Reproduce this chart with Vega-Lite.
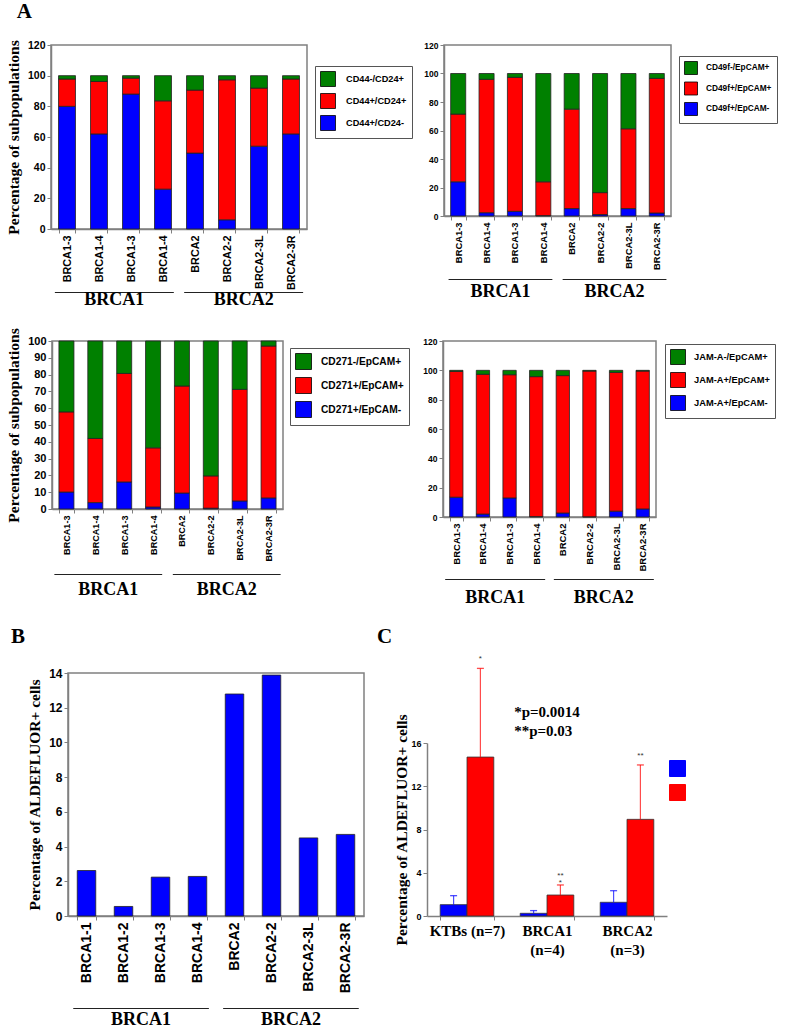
{
"$schema": "https://vega.github.io/schema/vega-lite/v6.json",
"background": "white",
"padding": {"left": 5, "top": 1, "right": 2, "bottom": 2},
"config": {
 "view": {"stroke": "#808080", "strokeWidth": 1.5},
 "axis": {"grid": false, "labelFont": "Liberation Sans", "labelFontWeight": "bold", "labelColor": "#000", "domainColor": "#808080", "domainWidth": 1.5, "tickColor": "#808080", "tickWidth": 1, "tickSize": 4, "titleFont": "Liberation Serif", "titleFontWeight": "bold", "titleColor": "#000", "titleFontSize": 15.5, "titlePadding": 6},
 "legend": {"title": null},
 "title": {"font": "Liberation Serif", "fontWeight": "bold", "fontSize": 21, "anchor": "start", "color": "#000"}
},
"datasets": {
 "p1": [
  {"cat":"BRCA1-3","pop":"CD44+/CD24-","k":0,"v":80},
  {"cat":"BRCA1-4","pop":"CD44+/CD24-","k":0,"v":62},
  {"cat":"BRCA1-3\u200b","pop":"CD44+/CD24-","k":0,"v":88},
  {"cat":"BRCA1-4\u200b","pop":"CD44+/CD24-","k":0,"v":26},
  {"cat":"BRCA2","pop":"CD44+/CD24-","k":0,"v":49.5},
  {"cat":"BRCA2-2","pop":"CD44+/CD24-","k":0,"v":6},
  {"cat":"BRCA2-3L","pop":"CD44+/CD24-","k":0,"v":54},
  {"cat":"BRCA2-3R","pop":"CD44+/CD24-","k":0,"v":62},
  {"cat":"BRCA1-3","pop":"CD44+/CD24+","k":1,"v":17.8},
  {"cat":"BRCA1-4","pop":"CD44+/CD24+","k":1,"v":34.2},
  {"cat":"BRCA1-3\u200b","pop":"CD44+/CD24+","k":1,"v":10.4},
  {"cat":"BRCA1-4\u200b","pop":"CD44+/CD24+","k":1,"v":57.6},
  {"cat":"BRCA2","pop":"CD44+/CD24+","k":1,"v":41.1},
  {"cat":"BRCA2-2","pop":"CD44+/CD24+","k":1,"v":91.3},
  {"cat":"BRCA2-3L","pop":"CD44+/CD24+","k":1,"v":37.9},
  {"cat":"BRCA2-3R","pop":"CD44+/CD24+","k":1,"v":35.8},
  {"cat":"BRCA1-3","pop":"CD44-/CD24+","k":2,"v":2.2},
  {"cat":"BRCA1-4","pop":"CD44-/CD24+","k":2,"v":3.8},
  {"cat":"BRCA1-3\u200b","pop":"CD44-/CD24+","k":2,"v":1.6},
  {"cat":"BRCA1-4\u200b","pop":"CD44-/CD24+","k":2,"v":16.4},
  {"cat":"BRCA2","pop":"CD44-/CD24+","k":2,"v":9.4},
  {"cat":"BRCA2-2","pop":"CD44-/CD24+","k":2,"v":2.7},
  {"cat":"BRCA2-3L","pop":"CD44-/CD24+","k":2,"v":8.1},
  {"cat":"BRCA2-3R","pop":"CD44-/CD24+","k":2,"v":2.2}
 ],
 "p2": [
  {"cat":"BRCA1-3","pop":"CD49f+/EpCAM-","k":0,"v":24},
  {"cat":"BRCA1-4","pop":"CD49f+/EpCAM-","k":0,"v":2.3},
  {"cat":"BRCA1-3\u200b","pop":"CD49f+/EpCAM-","k":0,"v":3.3},
  {"cat":"BRCA1-4\u200b","pop":"CD49f+/EpCAM-","k":0,"v":0.3},
  {"cat":"BRCA2","pop":"CD49f+/EpCAM-","k":0,"v":5.2},
  {"cat":"BRCA2-2","pop":"CD49f+/EpCAM-","k":0,"v":1},
  {"cat":"BRCA2-3L","pop":"CD49f+/EpCAM-","k":0,"v":5.2},
  {"cat":"BRCA2-3R","pop":"CD49f+/EpCAM-","k":0,"v":2.1},
  {"cat":"BRCA1-3","pop":"CD49f+/EpCAM+","k":1,"v":47.5},
  {"cat":"BRCA1-4","pop":"CD49f+/EpCAM+","k":1,"v":93.6},
  {"cat":"BRCA1-3\u200b","pop":"CD49f+/EpCAM+","k":1,"v":94},
  {"cat":"BRCA1-4\u200b","pop":"CD49f+/EpCAM+","k":1,"v":23.7},
  {"cat":"BRCA2","pop":"CD49f+/EpCAM+","k":1,"v":69.8},
  {"cat":"BRCA2-2","pop":"CD49f+/EpCAM+","k":1,"v":15.4},
  {"cat":"BRCA2-3L","pop":"CD49f+/EpCAM+","k":1,"v":56},
  {"cat":"BRCA2-3R","pop":"CD49f+/EpCAM+","k":1,"v":94.5},
  {"cat":"BRCA1-3","pop":"CD49f-/EpCAM+","k":2,"v":28.5},
  {"cat":"BRCA1-4","pop":"CD49f-/EpCAM+","k":2,"v":4.1},
  {"cat":"BRCA1-3\u200b","pop":"CD49f-/EpCAM+","k":2,"v":2.7},
  {"cat":"BRCA1-4\u200b","pop":"CD49f-/EpCAM+","k":2,"v":76},
  {"cat":"BRCA2","pop":"CD49f-/EpCAM+","k":2,"v":25},
  {"cat":"BRCA2-2","pop":"CD49f-/EpCAM+","k":2,"v":83.6},
  {"cat":"BRCA2-3L","pop":"CD49f-/EpCAM+","k":2,"v":38.8},
  {"cat":"BRCA2-3R","pop":"CD49f-/EpCAM+","k":2,"v":3.4}
 ],
 "p3": [
  {"cat":"BRCA1-3","pop":"CD271+/EpCAM-","k":0,"v":10.1},
  {"cat":"BRCA1-4","pop":"CD271+/EpCAM-","k":0,"v":3.8},
  {"cat":"BRCA1-3\u200b","pop":"CD271+/EpCAM-","k":0,"v":16.1},
  {"cat":"BRCA1-4\u200b","pop":"CD271+/EpCAM-","k":0,"v":1.2},
  {"cat":"BRCA2","pop":"CD271+/EpCAM-","k":0,"v":9.5},
  {"cat":"BRCA2-2","pop":"CD271+/EpCAM-","k":0,"v":0.5},
  {"cat":"BRCA2-3L","pop":"CD271+/EpCAM-","k":0,"v":4.8},
  {"cat":"BRCA2-3R","pop":"CD271+/EpCAM-","k":0,"v":6.6},
  {"cat":"BRCA1-3","pop":"CD271+/EpCAM+","k":1,"v":47.7},
  {"cat":"BRCA1-4","pop":"CD271+/EpCAM+","k":1,"v":38.2},
  {"cat":"BRCA1-3\u200b","pop":"CD271+/EpCAM+","k":1,"v":64.6},
  {"cat":"BRCA1-4\u200b","pop":"CD271+/EpCAM+","k":1,"v":35.2},
  {"cat":"BRCA2","pop":"CD271+/EpCAM+","k":1,"v":63.7},
  {"cat":"BRCA2-2","pop":"CD271+/EpCAM+","k":1,"v":19.2},
  {"cat":"BRCA2-3L","pop":"CD271+/EpCAM+","k":1,"v":66.4},
  {"cat":"BRCA2-3R","pop":"CD271+/EpCAM+","k":1,"v":90.4},
  {"cat":"BRCA1-3","pop":"CD271-/EpCAM+","k":2,"v":42.2},
  {"cat":"BRCA1-4","pop":"CD271-/EpCAM+","k":2,"v":58},
  {"cat":"BRCA1-3\u200b","pop":"CD271-/EpCAM+","k":2,"v":19.3},
  {"cat":"BRCA1-4\u200b","pop":"CD271-/EpCAM+","k":2,"v":63.6},
  {"cat":"BRCA2","pop":"CD271-/EpCAM+","k":2,"v":26.8},
  {"cat":"BRCA2-2","pop":"CD271-/EpCAM+","k":2,"v":80.3},
  {"cat":"BRCA2-3L","pop":"CD271-/EpCAM+","k":2,"v":28.8},
  {"cat":"BRCA2-3R","pop":"CD271-/EpCAM+","k":2,"v":3}
 ],
 "p4": [
  {"cat":"BRCA1-3","pop":"JAM-A+/EpCAM-","k":0,"v":13.5},
  {"cat":"BRCA1-4","pop":"JAM-A+/EpCAM-","k":0,"v":2},
  {"cat":"BRCA1-3\u200b","pop":"JAM-A+/EpCAM-","k":0,"v":13},
  {"cat":"BRCA1-4\u200b","pop":"JAM-A+/EpCAM-","k":0,"v":0.3},
  {"cat":"BRCA2","pop":"JAM-A+/EpCAM-","k":0,"v":2.7},
  {"cat":"BRCA2-2","pop":"JAM-A+/EpCAM-","k":0,"v":0.2},
  {"cat":"BRCA2-3L","pop":"JAM-A+/EpCAM-","k":0,"v":4},
  {"cat":"BRCA2-3R","pop":"JAM-A+/EpCAM-","k":0,"v":5.5},
  {"cat":"BRCA1-3","pop":"JAM-A+/EpCAM+","k":1,"v":85.8},
  {"cat":"BRCA1-4","pop":"JAM-A+/EpCAM+","k":1,"v":95.3},
  {"cat":"BRCA1-3\u200b","pop":"JAM-A+/EpCAM+","k":1,"v":84},
  {"cat":"BRCA1-4\u200b","pop":"JAM-A+/EpCAM+","k":1,"v":95.4},
  {"cat":"BRCA2","pop":"JAM-A+/EpCAM+","k":1,"v":93.7},
  {"cat":"BRCA2-2","pop":"JAM-A+/EpCAM+","k":1,"v":99.3},
  {"cat":"BRCA2-3L","pop":"JAM-A+/EpCAM+","k":1,"v":94.6},
  {"cat":"BRCA2-3R","pop":"JAM-A+/EpCAM+","k":1,"v":94},
  {"cat":"BRCA1-3","pop":"JAM-A-/EpCAM+","k":2,"v":0.7},
  {"cat":"BRCA1-4","pop":"JAM-A-/EpCAM+","k":2,"v":2.7},
  {"cat":"BRCA1-3\u200b","pop":"JAM-A-/EpCAM+","k":2,"v":3},
  {"cat":"BRCA1-4\u200b","pop":"JAM-A-/EpCAM+","k":2,"v":4.3},
  {"cat":"BRCA2","pop":"JAM-A-/EpCAM+","k":2,"v":3.6},
  {"cat":"BRCA2-2","pop":"JAM-A-/EpCAM+","k":2,"v":0.5},
  {"cat":"BRCA2-3L","pop":"JAM-A-/EpCAM+","k":2,"v":1.4},
  {"cat":"BRCA2-3R","pop":"JAM-A-/EpCAM+","k":2,"v":0.5}
 ],
 "pb": [
  {"cat":"BRCA1-1","v":2.62},
  {"cat":"BRCA1-2","v":0.55},
  {"cat":"BRCA1-3","v":2.24},
  {"cat":"BRCA1-4","v":2.28},
  {"cat":"BRCA2","v":12.79},
  {"cat":"BRCA2-2","v":13.88},
  {"cat":"BRCA2-3L","v":4.5},
  {"cat":"BRCA2-3R","v":4.7}
 ],
 "pc": [
  {"grp":"KTBs (n=7)","s":"s1","v":1.05,"hi":1.88,"star":""},
  {"grp":"KTBs (n=7)","s":"s2","v":14.7,"hi":22.9,"star":"*"},
  {"grp":"BRCA1|(n=4)","s":"s1","v":0.25,"hi":0.5,"star":""},
  {"grp":"BRCA1|(n=4)","s":"s2","v":1.94,"hi":2.87,"star":"**\n*"},
  {"grp":"BRCA2|(n=3)","s":"s1","v":1.27,"hi":2.34,"star":""},
  {"grp":"BRCA2|(n=3)","s":"s2","v":8.94,"hi":13.97,"star":"**"}
 ],
 "pcnote": [
  {"grp":"BRCA1|(n=4)","y":18.9,"t":"*p=0.0014"},
  {"grp":"BRCA1|(n=4)","y":17.1,"t":"**p=0.03"}
 ],
 "groups": [{"group":"BRCA1"},{"group":"BRCA2"}],
 "blank": [{"a": 1}]
},
"spacing": 15,
"resolve": {"scale": {"color": "independent"}, "legend": {"color": "independent"}},
"vconcat": [
 {"title": {"text": "A", "dx": 11, "offset": 17}, "spacing": 10,
  "resolve": {"scale": {"color": "independent"}, "legend": {"color": "independent"}},
  "hconcat": [
  {"spacing": 0, "vconcat": [
   {"width": 256, "height": 184, "data": {"name": "p1"},
    "mark": {"type": "bar", "stroke": "#222", "strokeWidth": 0.8},
    "encoding": {
     "x": {"field": "cat", "type": "nominal", "sort": null, "title": null, "scale": {"paddingInner": 0.47, "paddingOuter": 0.235}, "axis": {"labelAngle": -90, "labelFontSize": 10.8, "tickBand": "extent", "labelPadding": 2}},
     "y": {"field": "v", "type": "quantitative", "stack": "zero", "scale": {"domain": [0, 120]}, "title": "Percentage of subpopulations", "axis": {"values": [0,20,40,60,80,100,120], "labelFontSize": 10.5}},
     "color": {"field": "pop", "type": "nominal", "scale": {"domain": ["CD44-/CD24+","CD44+/CD24+","CD44+/CD24-"], "range": ["#008000","#ff0000","#0000ff"]},
       "legend": {"orient": "none", "legendX": 264, "legendY": 21, "strokeColor": "#555", "padding": 5, "symbolType": "square", "symbolSize": 225, "symbolStrokeColor": "#000", "symbolStrokeWidth": 0.8, "symbolOpacity": 1, "labelFont": "Liberation Sans", "labelFontWeight": "bold", "labelFontSize": 9.2, "labelColor": "#000", "labelOffset": 10, "rowPadding": 2}},
     "order": {"field": "k", "type": "quantitative"}
    }},
   {"width": 256, "height": 20, "view": {"stroke": null}, "data": {"name": "groups"},
    "encoding": {"x": {"field": "group", "type": "nominal", "sort": null, "axis": null, "scale": {"paddingInner": 0.08, "paddingOuter": 0.03}}},
    "layer": [
     {"mark": {"type": "rect", "color": "#222"}, "encoding": {"y": {"datum": 1, "type": "quantitative", "scale": {"domain": [0, 1]}, "axis": null}, "y2": {"datum": 0.95}}},
     {"mark": {"type": "text", "font": "Liberation Serif", "fontWeight": "bold", "fontSize": 18, "baseline": "middle", "color": "#000"}, "encoding": {"y": {"datum": 0.6, "type": "quantitative", "axis": null}, "text": {"field": "group"}}}
    ]}
  ]},
  {"spacing": 8, "vconcat": [
   {"width": 227, "height": 171, "data": {"name": "p2"},
    "mark": {"type": "bar", "stroke": "#222", "strokeWidth": 0.8},
    "encoding": {
     "x": {"field": "cat", "type": "nominal", "sort": null, "title": null, "scale": {"paddingInner": 0.47, "paddingOuter": 0.235}, "axis": {"labelAngle": -90, "labelFontSize": 9.4, "tickBand": "extent", "labelPadding": 2}},
     "y": {"field": "v", "type": "quantitative", "stack": "zero", "scale": {"domain": [0, 120]}, "title": null, "axis": {"values": [0,20,40,60,80,100,120], "labelFontSize": 8.5}},
     "color": {"field": "pop", "type": "nominal", "scale": {"domain": ["CD49f-/EpCAM+","CD49f+/EpCAM+","CD49f+/EpCAM-"], "range": ["#008000","#ff0000","#0000ff"]},
       "legend": {"orient": "none", "legendX": 235, "legendY": 11, "strokeColor": "#555", "padding": 5, "symbolType": "square", "symbolSize": 169, "symbolStrokeColor": "#000", "symbolStrokeWidth": 0.8, "symbolOpacity": 1, "labelFont": "Liberation Sans", "labelFontWeight": "bold", "labelFontSize": 8.3, "labelColor": "#000", "labelOffset": 8, "rowPadding": 2.5}},
     "order": {"field": "k", "type": "quantitative"}
    }},
   {"width": 227, "height": 24, "view": {"stroke": null}, "data": {"name": "groups"},
    "encoding": {"x": {"field": "group", "type": "nominal", "sort": null, "axis": null, "scale": {"paddingInner": 0.09, "paddingOuter": 0.04}}},
    "layer": [
     {"mark": {"type": "rect", "color": "#222"}, "encoding": {"y": {"datum": 1, "type": "quantitative", "scale": {"domain": [0, 1]}, "axis": null}, "y2": {"datum": 0.955}}},
     {"mark": {"type": "text", "font": "Liberation Serif", "fontWeight": "bold", "fontSize": 18, "baseline": "middle", "color": "#000"}, "encoding": {"y": {"datum": 0.45, "type": "quantitative", "axis": null}, "text": {"field": "group"}}}
    ]}
  ]}
 ]},
 {"spacing": 12,
  "resolve": {"scale": {"color": "independent"}, "legend": {"color": "independent"}},
  "hconcat": [
  {"spacing": -53,
   "resolve": {"scale": {"color": "independent"}, "legend": {"color": "independent"}},
   "hconcat": [
   {"width": 1, "height": 1, "view": {"stroke": null}, "data": {"name": "blank"}, "mark": {"type": "rect", "opacity": 0}, "encoding": {}},
   {"spacing": 12, "vconcat": [
    {"width": 231, "height": 168, "data": {"name": "p3"},
     "mark": {"type": "bar", "stroke": "#222", "strokeWidth": 0.8},
     "encoding": {
      "x": {"field": "cat", "type": "nominal", "sort": null, "title": null, "scale": {"paddingInner": 0.48, "paddingOuter": 0.24}, "axis": {"labelAngle": -90, "labelFontSize": 9.1, "tickBand": "extent", "labelPadding": 2}},
      "y": {"field": "v", "type": "quantitative", "stack": "zero", "scale": {"domain": [0, 100]}, "title": "Percentage of subpopulations", "axis": {"values": [0,10,20,30,40,50,60,70,80,90,100], "labelFontSize": 11}},
      "color": {"field": "pop", "type": "nominal", "scale": {"domain": ["CD271-/EpCAM+","CD271+/EpCAM+","CD271+/EpCAM-"], "range": ["#008000","#ff0000","#0000ff"]},
        "legend": {"orient": "none", "legendX": 238, "legendY": 7, "strokeColor": "#555", "padding": 5, "symbolType": "square", "symbolSize": 256, "symbolStrokeColor": "#000", "symbolStrokeWidth": 0.8, "symbolOpacity": 1, "labelFont": "Liberation Sans", "labelFontWeight": "bold", "labelFontSize": 10.2, "labelColor": "#000", "labelOffset": 9, "rowPadding": 3}},
      "order": {"field": "k", "type": "quantitative"}
     }},
    {"width": 231, "height": 32, "view": {"stroke": null}, "data": {"name": "groups"},
     "encoding": {"x": {"field": "group", "type": "nominal", "sort": null, "axis": null, "scale": {"paddingInner": 0.09, "paddingOuter": 0.02}}},
     "layer": [
      {"mark": {"type": "rect", "color": "#222"}, "encoding": {"y": {"datum": 1, "type": "quantitative", "scale": {"domain": [0, 1]}, "axis": null}, "y2": {"datum": 0.966}}},
      {"mark": {"type": "text", "font": "Liberation Serif", "fontWeight": "bold", "fontSize": 18, "baseline": "middle", "color": "#000"}, "encoding": {"y": {"datum": 0.5, "type": "quantitative", "axis": null}, "text": {"field": "group"}}}
     ]}
   ]}
  ]},
  {"spacing": 7, "vconcat": [
   {"width": 213, "height": 176, "data": {"name": "p4"},
    "mark": {"type": "bar", "stroke": "#222", "strokeWidth": 0.8},
    "encoding": {
     "x": {"field": "cat", "type": "nominal", "sort": null, "title": null, "scale": {"paddingInner": 0.5, "paddingOuter": 0.25}, "axis": {"labelAngle": -90, "labelFontSize": 9.5, "tickBand": "extent", "labelPadding": 2}},
     "y": {"field": "v", "type": "quantitative", "stack": "zero", "scale": {"domain": [0, 120]}, "title": null, "axis": {"values": [0,20,40,60,80,100,120], "labelFontSize": 8.5}},
     "color": {"field": "pop", "type": "nominal", "scale": {"domain": ["JAM-A-/EpCAM+","JAM-A+/EpCAM+","JAM-A+/EpCAM-"], "range": ["#008000","#ff0000","#0000ff"]},
       "legend": {"orient": "none", "legendX": 222, "legendY": 3, "strokeColor": "#555", "padding": 5, "symbolType": "square", "symbolSize": 225, "symbolStrokeColor": "#000", "symbolStrokeWidth": 0.8, "symbolOpacity": 1, "labelFont": "Liberation Sans", "labelFontWeight": "bold", "labelFontSize": 9.3, "labelColor": "#000", "labelOffset": 8, "rowPadding": 3}},
     "order": {"field": "k", "type": "quantitative"}
    }},
   {"width": 213, "height": 32, "view": {"stroke": null}, "data": {"name": "groups"},
    "encoding": {"x": {"field": "group", "type": "nominal", "sort": null, "axis": null, "scale": {"paddingInner": 0.08, "paddingOuter": 0.02}}},
    "layer": [
     {"mark": {"type": "rect", "color": "#222"}, "encoding": {"y": {"datum": 1, "type": "quantitative", "scale": {"domain": [0, 1]}, "axis": null}, "y2": {"datum": 0.968}}},
     {"mark": {"type": "text", "font": "Liberation Serif", "fontWeight": "bold", "fontSize": 18, "baseline": "middle", "color": "#000"}, "encoding": {"y": {"datum": 0.415, "type": "quantitative", "axis": null}, "text": {"field": "group"}}}
    ]}
  ]}
 ]},
 {"spacing": 11,
  "resolve": {"scale": {"color": "independent"}, "legend": {"color": "independent"}},
  "hconcat": [
  {"spacing": -42, "hconcat": [
   {"width": 1, "height": 1, "view": {"stroke": null}, "data": {"name": "blank"}, "mark": {"type": "rect", "opacity": 0}, "encoding": {}},
   {"title": {"text": "B", "dx": -16, "offset": 19}, "spacing": 14, "vconcat": [
    {"width": 296, "height": 243, "data": {"name": "pb"},
     "mark": {"type": "bar", "stroke": "#222", "strokeWidth": 0.8, "color": "#0000ff"},
     "encoding": {
      "x": {"field": "cat", "type": "nominal", "sort": null, "title": null, "scale": {"paddingInner": 0.5, "paddingOuter": 0.25}, "axis": {"labelAngle": -90, "labelFontSize": 14, "tickBand": "extent", "labelPadding": 2}},
      "y": {"field": "v", "type": "quantitative", "scale": {"domain": [0, 14]}, "title": "Percentage of ALDEFLUOR+ cells", "axis": {"values": [0,2,4,6,8,10,12,14], "labelFontSize": 12}}
     }},
    {"width": 296, "height": 22, "view": {"stroke": null}, "data": {"name": "groups"},
     "encoding": {"x": {"field": "group", "type": "nominal", "sort": null, "axis": null, "scale": {"paddingInner": 0.095, "paddingOuter": 0.035}}},
     "layer": [
      {"mark": {"type": "rect", "color": "#222"}, "encoding": {"y": {"datum": 1, "type": "quantitative", "scale": {"domain": [0, 1]}, "axis": null}, "y2": {"datum": 0.952}}},
      {"mark": {"type": "text", "font": "Liberation Serif", "fontWeight": "bold", "fontSize": 18, "baseline": "middle", "color": "#000"}, "encoding": {"y": {"datum": 0.45, "type": "quantitative", "axis": null}, "text": {"field": "group"}}}
     ]}
   ]}
  ]},
  {"title": {"text": "C", "dx": -18, "offset": 8}, "spacing": -19, "vconcat": [
   {"width": 240, "height": 1, "view": {"stroke": null}, "data": {"name": "blank"}, "mark": {"type": "rect", "opacity": 0}, "encoding": {}},
   {"width": 240, "height": 173, "view": {"stroke": null}, "data": {"name": "pc"},
   "encoding": {"x": {"field": "grp", "type": "nominal", "sort": null, "title": null, "scale": {"paddingInner": 0.33, "paddingOuter": 0.165},
     "axis": {"labelAngle": 0, "labelExpr": "split(datum.label, '|')", "labelFont": "Liberation Serif", "labelFontSize": 15, "labelLineHeight": 19, "tickBand": "extent", "labelPadding": 3, "labelBaseline": "top"}}},
   "layer": [
    {"mark": {"type": "bar", "stroke": "#333", "strokeWidth": 0.8, "clip": false},
     "encoding": {"xOffset": {"field": "s", "type": "nominal", "sort": null},
      "y": {"field": "v", "type": "quantitative", "scale": {"domain": [0, 16]}, "title": "Percentage of ALDEFLUOR+ cells", "axis": {"values": [0,2,4,6,8,10,12,14,16], "labelFontSize": 9, "titlePadding": 1}},
      "color": {"field": "s", "type": "nominal", "scale": {"domain": ["s1","s2"], "range": ["#0000ff","#ff0000"]},
       "legend": {"orient": "none", "legendX": 242, "legendY": 87, "strokeColor": "transparent", "padding": 0, "symbolType": "square", "symbolSize": 256, "symbolStrokeColor": "#333", "symbolStrokeWidth": 1, "symbolOpacity": 1, "labelExpr": "''", "rowPadding": 3}}}},
    {"mark": {"type": "rule", "opacity": 0.7, "strokeWidth": 1.2, "clip": false},
     "encoding": {"xOffset": {"field": "s", "type": "nominal", "sort": null}, "y": {"field": "v", "type": "quantitative"}, "y2": {"field": "hi"}, "color": {"field": "s", "type": "nominal", "legend": null}}},
    {"mark": {"type": "tick", "size": 7, "thickness": 1.3, "opacity": 0.7, "clip": false},
     "encoding": {"xOffset": {"field": "s", "type": "nominal", "sort": null}, "y": {"field": "hi", "type": "quantitative"}, "color": {"field": "s", "type": "nominal", "legend": null}}},
    {"mark": {"type": "text", "fontSize": 8, "dy": -9, "lineBreak": "\n", "lineHeight": 7, "color": "#333", "baseline": "middle", "clip": false},
     "encoding": {"xOffset": {"field": "s", "type": "nominal", "sort": null}, "y": {"field": "hi", "type": "quantitative"}, "text": {"field": "star"}}},
    {"data": {"name": "pcnote"},
     "mark": {"type": "text", "align": "left", "baseline": "middle", "font": "Liberation Serif", "fontWeight": "bold", "fontSize": 15, "dx": -6, "color": "#000", "clip": false},
     "encoding": {"x": {"field": "grp", "type": "nominal", "bandPosition": 0}, "y": {"field": "y", "type": "quantitative"}, "text": {"field": "t"}}}
   ]}
  ]}
 ]}
]
}
